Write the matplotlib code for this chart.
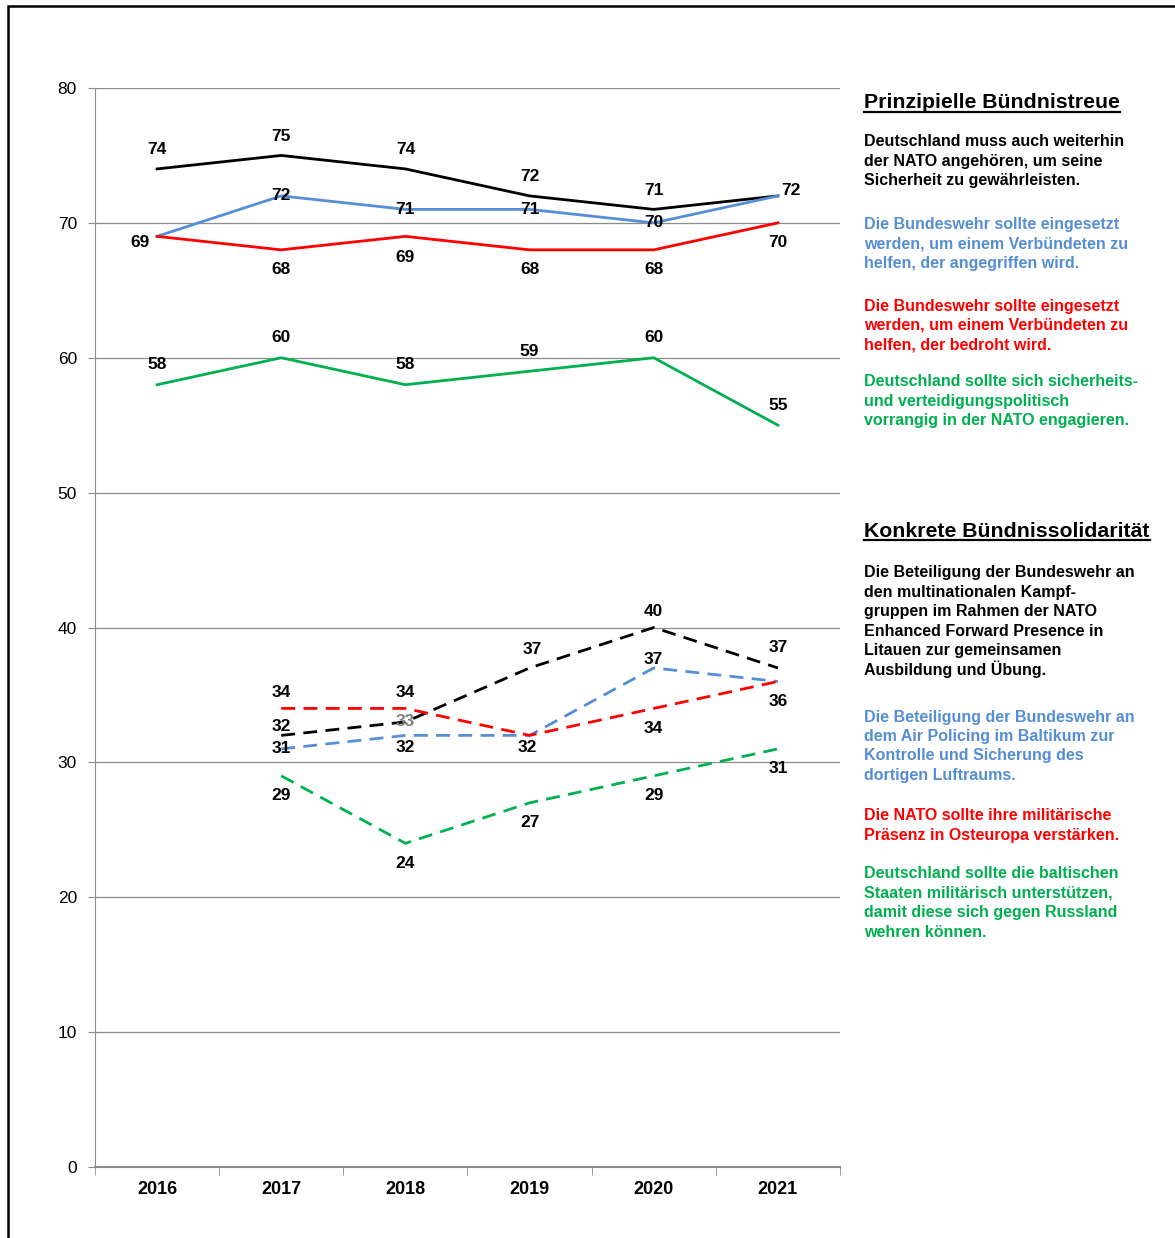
import matplotlib
matplotlib.use("Agg")
import matplotlib.pyplot as plt
from matplotlib.lines import Line2D
from matplotlib.patches import Rectangle

plt.rcParams['font.family'] = ['Liberation Sans', 'DejaVu Sans']

# Daten (Zustimmung in Prozent)
jahre = ["2016", "2017", "2018", "2019", "2020", "2021"]

# Prinzipielle Bündnistreue (durchgezogene Linien)
nato_mitglied = [74, 75, 74, 72, 71, 72]
verbuendeter_angegriffen = [69, 72, 71, 71, 70, 72]
verbuendeter_bedroht = [69, 68, 69, 68, 68, 70]
vorrangig_nato = [58, 60, 58, 59, 60, 55]

# Konkrete Bündnissolidarität (gestrichelt, ab 2017)
jahre_konkret = ["2017", "2018", "2019", "2020", "2021"]
efp_litauen = [32, 33, 37, 40, 37]
air_policing = [31, 32, 32, 37, 36]
praesenz_osteuropa = [34, 34, 32, 34, 36]
baltikum_unterstuetzen = [29, 24, 27, 29, 31]

schwarz = "#000000"
blau = "#558ED5"
rot = "#FF0000"
gruen = "#00B050"

fig = plt.figure(figsize=(11.75, 12.38), dpi=100)
ax = fig.add_axes([95 / 1175, 1 - 1167 / 1238, 745 / 1175, 1079 / 1238])

x_all = list(range(len(jahre)))
x_k = [jahre.index(j) for j in jahre_konkret]

# Beschriftungs-Offsets in Pixel (dx, dy); None = keine Beschriftung
serien = [
    (x_all, nato_mitglied, schwarz, "-", [(0, 19), (0, 19), (0, 19), (0, 19), (0, 19), None]),
    (x_all, verbuendeter_angegriffen, blau, "-", [(-17, -6), (0, 0), (0, 0), (0, 0), (0, 0), (13, 5)]),
    (x_all, verbuendeter_bedroht, rot, "-", [None, (0, -20), (0, -21), (0, -20), (0, -20), (0, -20)]),
    (x_all, vorrangig_nato, gruen, "-", [(0, 20), (0, 20), (0, 20), (0, 20), (0, 20), (0, 20)]),
    (x_k, efp_litauen, schwarz, "--", [(0, 9), (0, 0), (3, 18), (0, 16), (0, 20)]),
    (x_k, air_policing, blau, "--", [(0, 0), (0, -12), (-2, -12), (0, 8), (0, -20)]),
    (x_k, praesenz_osteuropa, rot, "--", [(0, 16), (0, 16), None, (0, -20), None]),
    (x_k, baltikum_unterstuetzen, gruen, "--", [(0, -20), (0, -20), (0, -20), (0, -20), (0, -20)]),
]

for xs, ys, farbe, stil, offsets in serien:
    if stil == "--":
        ax.plot(xs, ys, color=farbe, linewidth=2.0, linestyle=(0, (5, 3)), zorder=3)
    else:
        ax.plot(xs, ys, color=farbe, linewidth=2.0, zorder=3)
    for x, y, off in zip(xs, ys, offsets):
        if off is None:
            continue
        c = "#7F7F7F" if (farbe == schwarz and stil == "--" and off == (0, 0)) else "black"
        ax.annotate(str(y), (x, y), xytext=(off[0] * 0.72, off[1] * 0.72),
                    textcoords="offset points", ha="center", va="center",
                    fontsize=12.5, fontweight="bold", color=c, zorder=4)

ax.set_xlim(-0.5, 5.5)
ax.set_ylim(0, 80)
ax.set_yticks(range(0, 81, 10))
ax.yaxis.grid(True, color="#8C8C8C", linewidth=0.9)
ax.set_axisbelow(True)
ax.set_xticks(x_all)
ax.set_xticklabels(jahre, fontsize=13, fontweight="bold")
ax.set_xticks([i - 0.5 for i in range(len(jahre) + 1)], minor=True)
ax.tick_params(axis="x", which="major", length=0, pad=10)
ax.tick_params(axis="x", which="minor", length=6, color="#8C8C8C")
ax.tick_params(axis="y", length=5, color="#8C8C8C", labelsize=12.5, pad=8)
for s in ["top", "right"]:
    ax.spines[s].set_visible(False)
ax.spines["left"].set_color("#8C8C8C")
ax.spines["bottom"].set_color("#8C8C8C")
ax.spines["bottom"].set_linewidth(1.5)

# Rahmen oben und links
fig.patches.append(Rectangle((8 / 1175, -0.1), 1.2, 1 - 6 / 1238 + 0.1,
                             transform=fig.transFigure, fill=False,
                             edgecolor="black", linewidth=1.8))


def fy(px):
    return 1 - px / 1238


tx = 864 / 1175
ueberschriften = [
    ("Prinzipielle Bündnistreue", 103),
    ("Konkrete Bündnissolidarität", 531),
]
# (Zeilen, Farbe, Mitte der ersten Zeile in Pixel)
absaetze = [
    (["Deutschland muss auch weiterhin", "der NATO angehören, um seine",
      "Sicherheit zu gewährleisten."], schwarz, 141),
    (["Die Bundeswehr sollte eingesetzt", "werden, um einem Verbündeten zu",
      "helfen, der angegriffen wird."], blau, 224),
    (["Die Bundeswehr sollte eingesetzt", "werden, um einem Verbündeten zu",
      "helfen, der bedroht wird."], rot, 305),
    (["Deutschland sollte sich sicherheits-", "und verteidigungspolitisch",
      "vorrangig in der NATO engagieren."], gruen, 381),
    (["Die Beteiligung der Bundeswehr an", "den multinationalen Kampf-",
      "gruppen im Rahmen der NATO", "Enhanced Forward Presence in",
      "Litauen zur gemeinsamen", "Ausbildung und Übung."], schwarz, 572),
    (["Die Beteiligung der Bundeswehr an", "dem Air Policing im Baltikum zur",
      "Kontrolle und Sicherung des", "dortigen Luftraums."], blau, 716),
    (["Die NATO sollte ihre militärische", "Präsenz in Osteuropa verstärken."], rot, 815),
    (["Deutschland sollte die baltischen", "Staaten militärisch unterstützen,",
      "damit diese sich gegen Russland", "wehren können."], gruen, 873),
]
zeilenabstand = 19.4

titel_objekte = []
for text, ypx in ueberschriften:
    t = fig.text(tx, fy(ypx), text, fontsize=15.3, fontweight="bold",
                 ha="left", va="center", color="black")
    titel_objekte.append(t)

for zeilen, farbe, ypx in absaetze:
    for i, zeile in enumerate(zeilen):
        fig.text(tx, fy(ypx + i * zeilenabstand + 5.5), zeile, fontsize=11.5,
                 fontweight="bold", color=farbe, ha="left", va="baseline")

# Unterstreichung der Überschriften
fig.canvas.draw()
renderer = fig.canvas.get_renderer()
for t in titel_objekte:
    bb = t.get_window_extent(renderer).transformed(fig.transFigure.inverted())
    yline = bb.y0 + 0.0005
    fig.add_artist(Line2D([bb.x0, bb.x1], [yline, yline], transform=fig.transFigure,
                          color="black", linewidth=1.6))

fig.savefig("out.png", dpi=100)
